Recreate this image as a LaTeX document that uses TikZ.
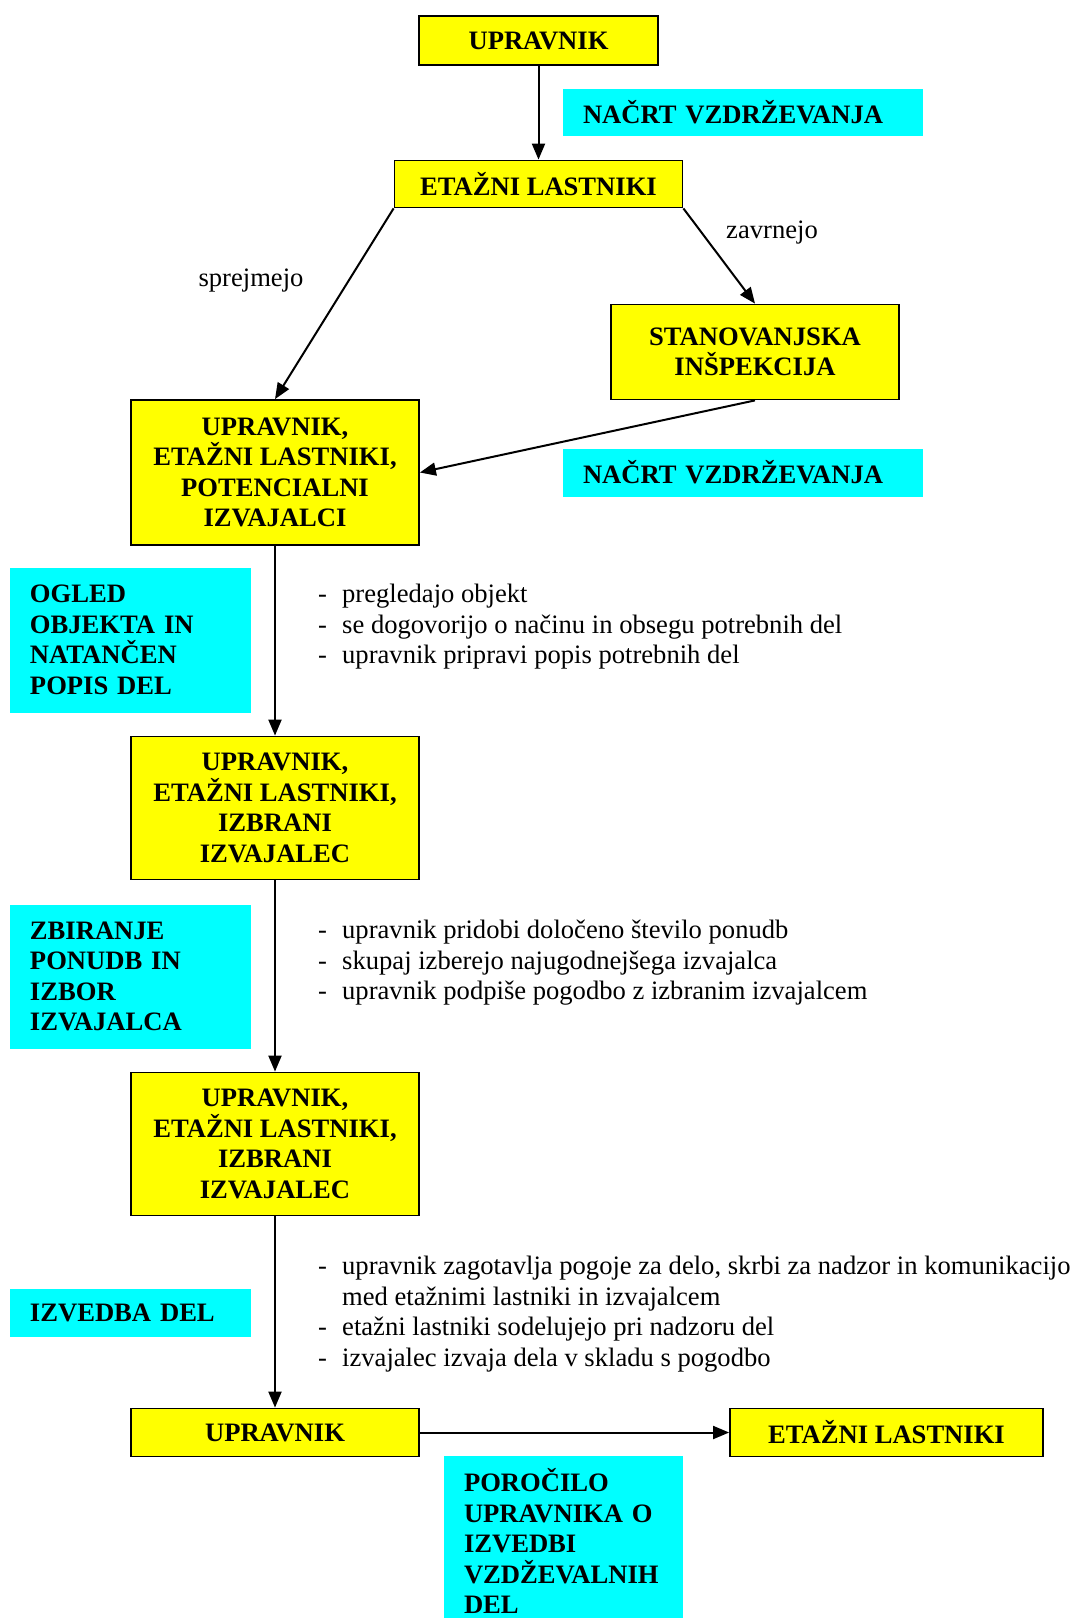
\documentclass[tikz,border=0pt]{standalone}
\usepackage{fontspec}
\setmainfont{Liberation Serif}
\usetikzlibrary{arrows.meta}
\definecolor{rumena}{RGB}{255,255,0}
\definecolor{modra}{RGB}{0,255,255}

\begin{document}
\begin{tikzpicture}[x=1pt, y=-1pt,
    okvir/.style={draw, fill=rumena, line width=1.8pt, inner sep=0pt, align=center,
        minimum width=288pt, font=\fontsize{26.6}{30.5}\selectfont\bfseries},
    oznaka/.style={fill=modra, inner xsep=20pt, inner ysep=0pt, align=left,
        font=\fontsize{26.6}{30.5}\selectfont\bfseries},
    besedilo/.style={inner sep=0pt, font=\fontsize{26.6}{30.5}\selectfont},
    puscica/.style={line width=2pt, -{Triangle[length=16pt,width=13pt]}}]
    % Ozadje
    \fill[white] (0,0) rectangle (1075,1618);
    \useasboundingbox (0,0) rectangle (1075,1618);
    % Rumena polja
    \node[okvir, minimum width=239pt, minimum height=49pt] (upr) at (538.5,40.5) {UPRAVNIK};
    \node[okvir, minimum height=47pt] (etl) at (538.5,184) {ETAŽNI LASTNIKI};
    \node[okvir, minimum height=95pt] (insp) at (755,352) {STANOVANJSKA\\INŠPEKCIJA};
    \node[okvir, minimum height=145pt] (pot) at (275,472.5) {UPRAVNIK,\\ETAŽNI LASTNIKI,\\POTENCIALNI\\IZVAJALCI};
    \node[okvir, minimum height=143pt] (izb) at (275,808) {UPRAVNIK,\\ETAŽNI LASTNIKI,\\IZBRANI\\IZVAJALEC};
    \node[okvir, minimum height=143pt] (izv) at (275,1144) {UPRAVNIK,\\ETAŽNI LASTNIKI,\\IZBRANI\\IZVAJALEC};
    \node[okvir, minimum height=48pt] (upr2) at (275,1432.5) {UPRAVNIK};
    \node[okvir, minimum width=313pt, minimum height=48pt] (etl2) at (886.5,1432.5) {ETAŽNI LASTNIKI};
    % Modra polja
    \node[oznaka, text width=320pt, minimum height=47pt] (nacrt1) at (743,112) {NAČRT VZDRŽEVANJA};
    \node[oznaka, text width=320pt, minimum height=48pt] (nacrt2) at (743,472.5) {NAČRT VZDRŽEVANJA};
    \node[oznaka, text width=201pt, minimum height=145pt] (ogled) at (130.5,640) {OGLED\\OBJEKTA IN\\NATANČEN\\POPIS DEL};
    \node[oznaka, text width=201pt, minimum height=144pt] (zbir) at (130.5,976.5) {ZBIRANJE\\PONUDB IN\\IZBOR\\IZVAJALCA};
    \node[oznaka, text width=201pt, minimum height=48pt] (izved) at (130.5,1312.5) {IZVEDBA DEL};
    \node[oznaka, text width=199pt, minimum height=170pt] (poroc) at (563.5,1541) {POROČILO\\UPRAVNIKA O\\IZVEDBI\\VZDŽEVALNIH\\DEL};
    % Besedila
    \node[besedilo] (zavr) at (772,233) {zavrnejo};
    \node[besedilo] (sprej) at (251,281) {sprejmejo};
    \node[besedilo, anchor=base west] (sez1) at (318,602.5) {\parbox[t]{800pt}{%
        \makebox[24pt][l]{-}pregledajo objekt\\
        \makebox[24pt][l]{-}se dogovorijo o načinu in obsegu potrebnih del\\
        \makebox[24pt][l]{-}upravnik pripravi popis potrebnih del}};
    \node[besedilo, anchor=base west] (sez2) at (318,938.5) {\parbox[t]{800pt}{%
        \makebox[24pt][l]{-}upravnik pridobi določeno število ponudb\\
        \makebox[24pt][l]{-}skupaj izberejo najugodnejšega izvajalca\\
        \makebox[24pt][l]{-}upravnik podpiše pogodbo z izbranim izvajalcem}};
    \node[besedilo, anchor=base west] (sez3) at (318,1274.5) {\parbox[t]{800pt}{%
        \makebox[24pt][l]{-}upravnik zagotavlja pogoje za delo, skrbi za nadzor in komunikacijo\\
        \hspace*{24pt}med etažnimi lastniki in izvajalcem\\
        \makebox[24pt][l]{-}etažni lastniki sodelujejo pri nadzoru del\\
        \makebox[24pt][l]{-}izvajalec izvaja dela v skladu s pogodbo}};
    % Puscice
    \draw[puscica] (upr) -- (etl);
    \draw[puscica] (etl.south west) -- (pot.north);
    \draw[puscica] (etl.south east) -- (insp.north);
    \draw[puscica] (insp.south) -- (pot.east);
    \draw[puscica] (pot) -- (izb);
    \draw[puscica] (izb) -- (izv);
    \draw[puscica] (izv) -- (upr2);
    \draw[puscica] (upr2) -- (etl2);
\end{tikzpicture}
\end{document}
